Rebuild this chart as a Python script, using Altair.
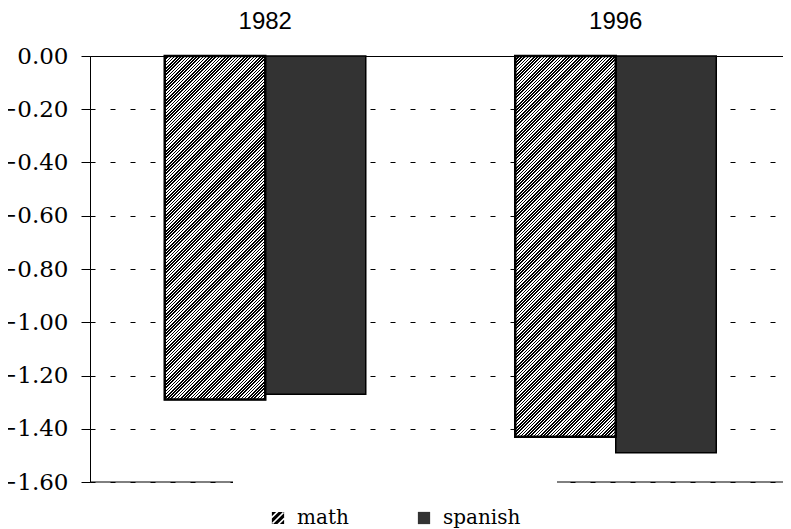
import altair as alt
import pandas as pd

# ---- data ----
years = ["1982", "1996"]
subjects = ["math", "spanish"]
math_vals = [-1.29, -1.43]
spanish_vals = [-1.27, -1.49]
y_ticks = [0.0, -0.2, -0.4, -0.6, -0.8, -1.0, -1.2, -1.4, -1.6]
y_min = -1.6

rows = []
for i, yr in enumerate(years):
    rows.append({"year": yr, "subject": "math", "value": math_vals[i]})
    rows.append({"year": yr, "subject": "spanish", "value": spanish_vals[i]})
df = pd.DataFrame(rows)

SERIF = "DejaVu Serif"
SANS = "Liberation Sans"

# ---- layout ----
PLOT_H = 426
PLOT_W_VIS = 693
RANGE_W = 701
P_INNER = 0.4265
STEP = RANGE_W / 2.0
BAR_W = STEP * (1 - P_INNER) / 2.0
PX_PER_UNIT = PLOT_H / (0 - y_min)


def hatch(value, period=3.2):
    """Diagonal black/white stripes as a linear gradient (objectBoundingBox)."""
    w = BAR_W
    h = abs(value) * PX_PER_UNIT
    n = int(round((w + h) / period))
    stops = []
    for k in range(n):
        a = k / n
        m = (k + 0.5) / n
        b = (k + 1) / n
        stops += [
            {"offset": a, "color": "#000000"},
            {"offset": m, "color": "#000000"},
            {"offset": m, "color": "#ffffff"},
            {"offset": b, "color": "#ffffff"},
        ]
    s = (w + h) / (w * w + h * h)
    return {"gradient": "linear", "x1": 0, "y1": 0, "x2": w * s, "y2": h * s, "stops": stops}


hatch_symbol = (
    "M-1,-1H1V1H-1Z "
    "M-1,0.1L0.1,-1L-0.3,-1L-1,-0.3Z "
    "M-0.8,1L1,-0.8L0.8,-1L-1,0.8Z "
    "M0.3,1L1,0.3L1,-0.1L-0.1,1Z"
)

legend = alt.Legend(
    title=None,
    orient="none",
    legendX=143,
    legendY=417,
    direction="horizontal",
    labelFont=SERIF,
)

x_enc = alt.X(
    "year:N",
    sort=years,
    scale=alt.Scale(domain=years, range=[0, RANGE_W], paddingInner=P_INNER, paddingOuter=P_INNER / 2),
    axis=alt.Axis(
        orient="top",
        title=None,
        ticks=False,
        tickSize=0,
        labelPadding=23,
        labelFont=SANS,
        labelFontSize=24,
        labelColor="#000000",
        labelAngle=0,
        domainColor="#000000",
        domainWidth=1,
        grid=False,
    ),
)
xoff_enc = alt.XOffset("subject:N", sort=subjects, scale=alt.Scale(domain=subjects, paddingInner=0, paddingOuter=0))
y_enc = alt.Y(
    "value:Q",
    scale=alt.Scale(domain=[y_min, 0], nice=False, zero=False),
    axis=alt.Axis(
        title=None,
        values=y_ticks,
        format=".2f",
        labelFont=SERIF,
        labelFontSize=23,
        labelColor="#000000",
        labelPadding=13,
        tickSize=9,
        tickColor="#000000",
        domainColor="#000000",
        grid=True,
        gridColor="#000000",
        gridDash=[5, 15],
        gridWidth=1,
        gridOpacity=1,
    ),
)
fill_scale = alt.Scale(domain=subjects, range=["#000000", "#333333"])
shape_scale = alt.Scale(domain=subjects, range=[hatch_symbol, "square"])

base = alt.Chart(df)

# points hidden behind the bars that give the legend its symbols
points = base.transform_calculate(mid="datum.value / 2").mark_point(
    filled=True, opacity=1, size=150, stroke="#000000", strokeWidth=0.8
).encode(
    x=x_enc,
    xOffset=xoff_enc,
    y=alt.Y("mid:Q", scale=alt.Scale(domain=[y_min, 0], nice=False, zero=False)),
    fill=alt.Fill("subject:N", scale=fill_scale, legend=legend),
    shape=alt.Shape("subject:N", scale=shape_scale, legend=legend),
)

bars = base.mark_bar(stroke="#000000", strokeWidth=1.5).encode(
    x=x_enc,
    xOffset=xoff_enc,
    y=y_enc,
    fill=alt.Fill("subject:N", scale=fill_scale, legend=legend),
)

hatched = []
for i, yr in enumerate(years):
    hatched.append(
        base.transform_filter(
            (alt.datum.year == yr) & (alt.datum.subject == "math")
        ).mark_bar(fill=hatch(math_vals[i]), stroke="#000000", strokeWidth=2.5).encode(
            x=x_enc, xOffset=xoff_enc, y=y_enc
        )
    )

bottom_rule = alt.Chart(pd.DataFrame({"v": [y_min]})).mark_rule(
    color="#000000", strokeWidth=1
).encode(y=alt.Y("v:Q", scale=alt.Scale(domain=[y_min, 0], nice=False, zero=False)))

chart = alt.layer(bottom_rule, points, bars, *hatched).properties(
    width=PLOT_W_VIS,
    height=PLOT_H,
    autosize=alt.AutoSizeParams(type="none"),
    padding={"left": 82, "top": 48, "right": 0, "bottom": 47},
    background="#ffffff",
).configure_view(stroke=None).configure_legend(
    labelFont=SERIF,
    labelFontSize=20,
    labelColor="#000000",
    labelOffset=9,
    columnPadding=65,
    symbolSize=150,
    symbolStrokeColor="#000000",
    symbolStrokeWidth=0.8,
    fillColor="#ffffff",
    padding=35,
    strokeColor="#ffffff",
)

chart.save("out.html", embed_options={"renderer": "svg", "actions": False})
